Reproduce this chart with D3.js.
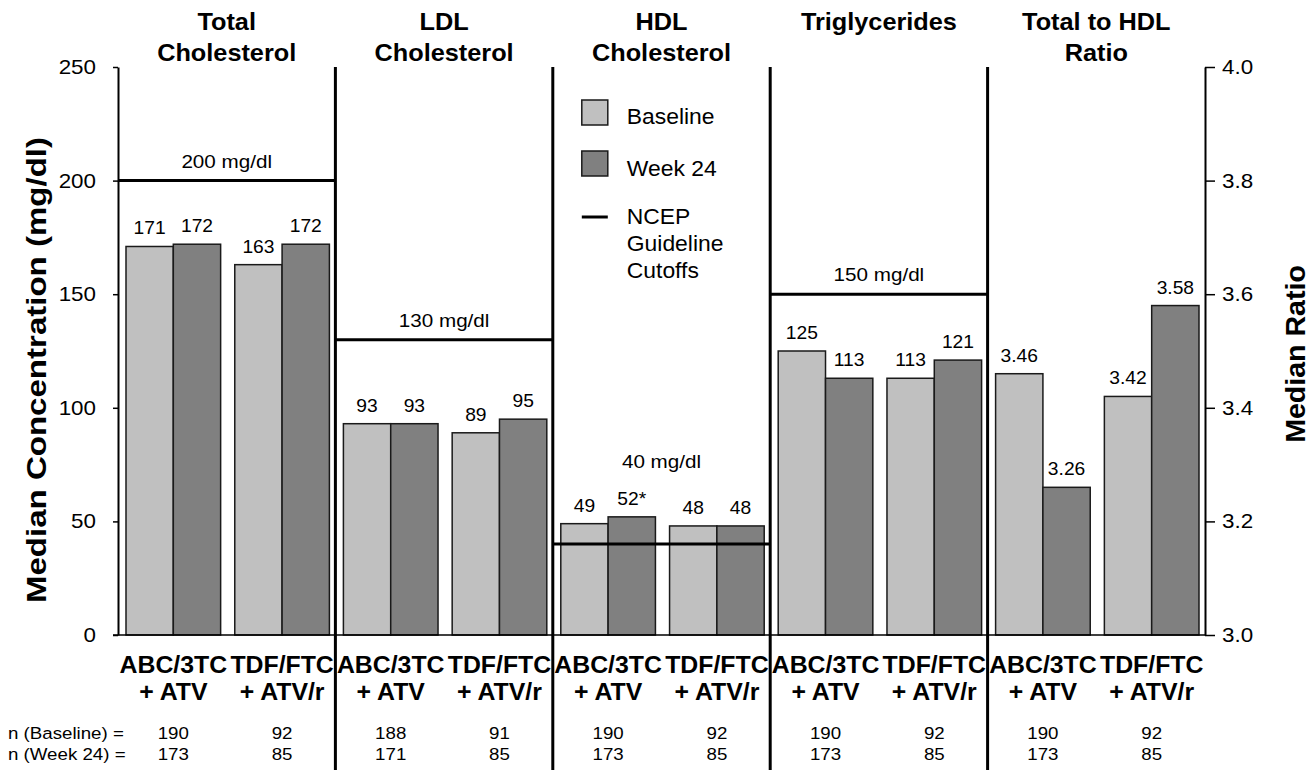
<!DOCTYPE html>
<html><head><meta charset="utf-8">
<script src="https://cdn.jsdelivr.net/npm/d3@7"></script>
<style>
body{margin:0;background:#fff}
svg{display:block}
text{font-family:"Liberation Sans",Arial,Helvetica,sans-serif;fill:#000}
</style>
</head><body>
<svg id="chart" width="1315" height="770"></svg>
<script>
// ---------- data ----------
const panels = ["total","ldl","hdl","tg","ratio"];
const panelTitles = [["Total","Cholesterol"],["LDL","Cholesterol"],["HDL","Cholesterol"],["Triglycerides"],["Total to HDL","Ratio"]];
const groups = ["ABC/3TC + ATV","TDF/FTC + ATV/r"];
const groupLines = [["ABC/3TC","+ ATV"],["TDF/FTC","+ ATV/r"]];
const series = ["Baseline","Week 24"];
const baselineValues = [[171,163],[93,89],[49,48],[125,113],[3.46,3.42]];
const week24Values = [[172,172],[93,95],[52,48],[113,121],[3.26,3.58]];
const week24Notes = [["",""],["",""],["*",""],["",""],["",""]];
const cutoffs = [200,130,40,150,null];
const cutoffLabels = ["200 mg/dl","130 mg/dl","40 mg/dl","150 mg/dl",null];
const leftTicks = [0,50,100,150,200,250];
const rightTicks = [3.0,3.2,3.4,3.6,3.8,4.0];
const nBaseline = [[190,92],[188,91],[190,92],[190,92],[190,92]];
const nWeek24 = [[173,85],[171,85],[173,85],[173,85],[173,85]];
const nRowLabels = ["n (Baseline) =","n (Week 24) ="];
const legendLabels = ["Baseline","Week 24"];
const legendLineLabel = ["NCEP","Guideline","Cutoffs"];
const colors = ["#c0c0c0","#808080"];

// ---------- scales ----------
const svg = d3.select("#chart");
const plotTop = 67, plotBottom = 635, plotLeft = 118, plotRight = 1205;
const yL = d3.scaleLinear().domain([0,250]).range([plotBottom, plotTop]);
const yR = d3.scaleLinear().domain([3,4]).range([plotBottom, plotTop]);
const xP = d3.scaleBand().domain(panels).range([plotLeft, plotRight]);
const pw = xP.bandwidth();
const xG = d3.scaleBand().domain(groups).range([8, pw - 6]).paddingInner(0.13);
const xS = d3.scaleBand().domain(series).range([0, xG.bandwidth()]);
const yFor = i => (i === 4 ? yR : yL);
const fmt = i => (i === 4 ? d3.format(".2f") : d3.format("d"));

// text helper: slightly wide lettering like the original
function addText(parent, x, y, str, o) {
  const rot = o.rotate ? ` rotate(${o.rotate})` : "";
  return parent.append("text")
    .attr("transform", `translate(${x},${y})${rot} scale(${o.sx || 1},1)`)
    .attr("text-anchor", o.anchor || "middle")
    .attr("font-size", o.size)
    .attr("font-weight", o.weight || "normal")
    .text(str);
}

// ---------- bars ----------
const barData = [];
panels.forEach((p,i) => {
  groups.forEach((g,j) => {
    [baselineValues, week24Values].forEach((arr,k) => {
      barData.push({p, i, g, j, s: series[k], k, v: arr[i][j],
        label: fmt(i)(arr[i][j]) + (k === 1 ? week24Notes[i][j] : "")});
    });
  });
});

const bx = d => xP(d.p) + xG(d.g) + xS(d.s);

svg.append("g").selectAll("rect").data(barData).join("rect")
  .attr("x", bx)
  .attr("y", d => yFor(d.i)(d.v))
  .attr("width", xS.bandwidth())
  .attr("height", d => plotBottom - yFor(d.i)(d.v))
  .attr("fill", d => colors[d.k])
  .attr("stroke", "#1a1a1a")
  .attr("stroke-width", 1.5);

svg.append("g").selectAll("text").data(barData).join("text")
  .attr("transform", d => `translate(${bx(d) + xS.bandwidth()/2},${yFor(d.i)(d.v) - 12}) scale(1.1,1)`)
  .attr("text-anchor", "middle")
  .attr("font-size", 17.5)
  .text(d => d.label);

// ---------- x baseline ----------
svg.append("line").attr("x1", plotLeft - 5).attr("x2", plotRight)
  .attr("y1", plotBottom).attr("y2", plotBottom)
  .attr("stroke", "#000").attr("stroke-width", 1.5);

// ---------- cutoff lines ----------
panels.forEach((p,i) => {
  if (cutoffs[i] == null) return;
  const yc = yL(cutoffs[i]);
  svg.append("line").attr("x1", xP(p)).attr("x2", xP(p) + pw)
    .attr("y1", yc).attr("y2", yc)
    .attr("stroke", "#000").attr("stroke-width", 3);
  const maxV = d3.max([baselineValues[i][0], baselineValues[i][1], week24Values[i][0], week24Values[i][1]]);
  const ly = Math.min(yc, yL(maxV) - 36) - 13;
  addText(svg, xP(p) + pw/2, ly, cutoffLabels[i], {size: 17.5, sx: 1.18});
});

// ---------- dividers ----------
panels.slice(1).forEach(p => {
  svg.append("line").attr("x1", xP(p)).attr("x2", xP(p))
    .attr("y1", plotTop).attr("y2", 770)
    .attr("stroke", "#000").attr("stroke-width", 3);
});

// ---------- axes ----------
const axL = svg.append("g").attr("transform", `translate(${plotLeft},0)`)
  .call(d3.axisLeft(yL).tickValues(leftTicks).tickSize(5).tickSizeOuter(0).tickPadding(17));
const axR = svg.append("g").attr("transform", `translate(${plotRight},0)`)
  .call(d3.axisRight(yR).tickValues(rightTicks).tickFormat(d3.format(".1f")).tickSize(10).tickSizeOuter(0).tickPadding(7));
[[axL, -17 - 5], [axR, 10 + 7]].forEach(([ax, off]) => {
  ax.select(".domain").attr("stroke", "#000").attr("stroke-width", 2);
  ax.selectAll(".tick line").attr("stroke", "#000").attr("stroke-width", 1.5);
  ax.selectAll(".tick text")
    .attr("x", 0)
    .attr("transform", `translate(${off},0) scale(1.12,1)`)
    .attr("font-size", 20).attr("font-family", '"Liberation Sans",Arial,sans-serif').attr("fill", "#000");
});

// ---------- titles ----------
panels.forEach((p,i) => {
  panelTitles[i].forEach((ln,li) => {
    addText(svg, xP(p) + pw/2, 30 + li*31, ln, {size: 23, weight: "bold", sx: 1.1});
  });
});

// axis titles
addText(svg, 46, 370, "Median Concentration (mg/dl)", {size: 28, weight: "bold", sx: 1.18, rotate: -90});
addText(svg, 1305, 354, "Median Ratio", {size: 28, weight: "bold", sx: 1.02, rotate: -90});

// ---------- category labels ----------
panels.forEach((p,i) => {
  groups.forEach((g,j) => {
    const cx = xP(p) + xG(g) + xG.bandwidth()/2;
    groupLines[j].forEach((ln,li) => {
      addText(svg, cx, 673 + li*27, ln, {size: 23, weight: "bold", sx: 1.08});
    });
    addText(svg, cx, 739, nBaseline[i][j], {size: 17, sx: 1.1});
    addText(svg, cx, 760, nWeek24[i][j], {size: 17, sx: 1.1});
  });
});
nRowLabels.forEach((t,k) => {
  addText(svg, 8, 739 + k*21, t, {size: 17, sx: 1.1, anchor: "start"});
});

// ---------- legend ----------
const lx = xP("hdl") + 29;
legendLabels.forEach((t,k) => {
  svg.append("rect").attr("x", lx).attr("y", 100 + k*51).attr("width", 26).attr("height", 25)
    .attr("fill", colors[k]).attr("stroke", "#1a1a1a").attr("stroke-width", 1.5);
  addText(svg, lx + 45, 124 + k*52, t, {size: 22, sx: 1.04, anchor: "start"});
});
svg.append("line").attr("x1", lx).attr("x2", lx + 26).attr("y1", 217).attr("y2", 217)
  .attr("stroke", "#000").attr("stroke-width", 3);
legendLineLabel.forEach((t,k) => {
  addText(svg, lx + 45, 224 + k*27, t, {size: 22, sx: 1.04, anchor: "start"});
});
</script>
</body></html>
